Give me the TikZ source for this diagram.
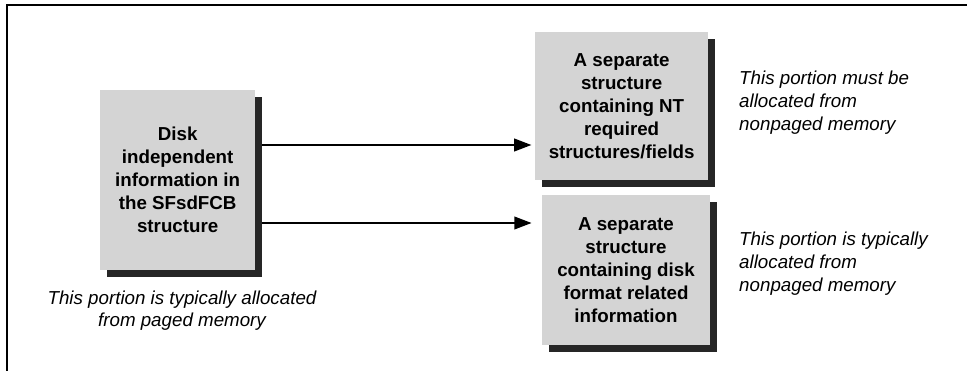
\documentclass[tikz,border=0pt]{standalone}
\usepackage{fontspec}
\setmainfont{Liberation Sans}
\usepackage{tikz}
\usetikzlibrary{positioning}
\usetikzlibrary{shadows}
\usetikzlibrary{arrows.meta}
\tikzset{
  membox/.style={draw=none, fill=black!17, align=center, inner sep=0pt,
    font=\fontsize{16}{19.6}\selectfont\bfseries,
    drop shadow={shadow xshift=0.2cm, shadow yshift=-0.2cm, fill=black!85, opacity=1}},
  memnote/.style={inner sep=0pt, font=\fontsize{16}{19.6}\selectfont\itshape},
  memarrow/.style={line width=1.7pt, -{Triangle[length=0.52cm, width=0.38cm]}}
}
\begin{document}
\begin{tikzpicture}
\useasboundingbox (0,0) rectangle (29.01,11.22);
% -- frame --
\draw[line width=1.6pt] (0.21,0.1) -- (0.21,11.07) -- (29.01,11.07);
% -- boxes --
\node[membox, minimum width=4.65cm, minimum height=5.4cm] (fcb) at (5.33,5.82)
  {Disk\\independent\\information in\\the SFsdFCB\\structure};
\node[membox, minimum width=5.2cm, minimum height=4.44cm] (nt) at (18.65,8.04)
  {A separate\\structure\\containing NT\\required\\structures/fields};
\node[membox, minimum width=5.05cm, minimum height=4.5cm] (fmt) at (18.78,3.12)
  {A separate\\structure\\containing disk\\format related\\information};
% -- arrows --
\draw[memarrow] ([xshift=0.2cm, yshift=1.05cm]fcb.east) -- ([xshift=-0.1cm]nt.west |- 0,6.87);
\draw[memarrow] ([xshift=0.2cm, yshift=-1.29cm]fcb.east) -- ([xshift=-0.3cm]fmt.west |- 0,4.53);
% -- notes --
\node[memnote, align=center] (paged) at (5.46,1.9)
  {This portion is typically allocated\\from paged memory};
\node[memnote, align=left, anchor=west] (must) at (22.17,8.13)
  {This portion must be\\allocated from\\nonpaged memory};
\node[memnote, align=left, anchor=west] (typ) at (22.17,3.3)
  {This portion is typically\\allocated from\\nonpaged memory};
\end{tikzpicture}
\end{document}
